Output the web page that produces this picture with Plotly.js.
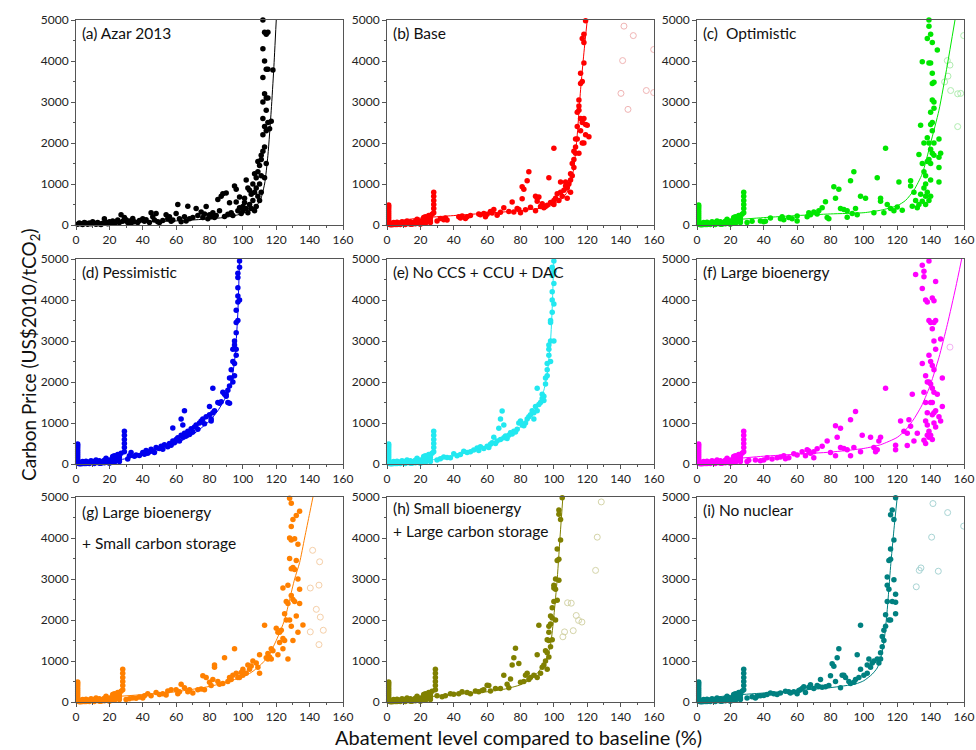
<!DOCTYPE html>
<html><head><meta charset="utf-8">
<script src="https://cdn.plot.ly/plotly-3.0.1.min.js"></script>
<style>html,body{margin:0;padding:0;background:#fff;}#chart{width:976px;height:750px;}</style>
</head><body><div id="chart"></div>
<script>
// ---------- DATA ----------
// shared low-abatement points (b-i)
const lowX = [1,1,1,1,1,1,1,1,1,1,1, 2,3,4,5,6,7,8,9,10,11,12,13,14,15,16,17,18,19,20,21,22,22,23,24,24,25,26,26,27, 3,5,8,11,14,17,20,23,26,2,4,6];
const lowY = [20,60,100,150,200,250,300,350,400,450,490, 20,40,60,30,70,20,50,80,30,60,100,40,80,20,60,90,140,50,100,60,180,120,200,80,150,230,170,100,260, 5,10,15,10,20,30,20,40,60,5,10,15];
const stackY = [300,400,500,600,700,800];

// (a) Azar 2013
const aX = [1,2,3,4,5,6,7,8,9,10,11,12,13,14,15,16,17,18,19,20,21,22,23,24,25,26,27,28,29,30,31,32,33,34,35,37,38,40,41,42,44,45,46,47,48,49,50,52,54,55,56,57,58,60,61,62,63,65,66,67,68,70,72,73,75,76,77,78,79,80,81,82,83,84,85,86,87,88,89,90,91,92,93,94,95,96,96,97,98,98,99,100,100,101,101,102,102,103,103,104,104,105,105,106,106,107,107,107,108,108,108,109,109,109,110,110,110,111,111,111,111,112,112,112,112,112,112,112,113,113,113,113,113,114,114,114,114,114,114,115,115,115,115,116,117,118,113];
const aY = [20,50,30,10,60,40,20,50,30,80,40,20,60,30,10,40,150,60,30,80,50,100,40,70,120,60,250,90,180,130,60,100,40,160,80,60,110,150,90,130,60,300,200,120,280,80,60,110,250,150,200,90,120,280,500,150,80,200,100,460,150,180,400,230,320,180,270,450,150,250,200,300,180,230,620,350,700,760,210,780,260,540,300,230,950,870,560,350,680,420,280,350,450,550,650,1100,400,300,900,500,850,750,400,600,1000,1250,800,350,1150,450,900,1550,1300,700,1450,1000,600,1700,1200,800,1600,1800,2200,2600,3000,3600,4300,5000,4700,4000,3200,2400,1900,4650,3800,3100,2800,2300,1500,4700,3800,2500,3100,2350,2530,3780,1150];
const aFitX = [0,20,40,60,80,90,100,105,110,113,115,117,118.5,120];
const aFitY = [40,55,75,100,150,190,280,380,560,1000,1700,2800,3800,5000];

// (b) Base
const bX = [28,28,28,28,28,28,30,32,34,35,36,43,44,45,47,48,50,55,56,58,59,60,62,63,64,66,68,70,73,75,76,78,79,80,81,81,82,83,84,85,86,89,89,90,90,91,92,93,94,95,96,97,98,100,100,100,101,102,103,104,104,105,106,107,107,108,108,109,110,110,110,111,111,112,112,112,113,113,113,114,114,114,115,115,115,115,116,116,116,116,117,117,117,117,118,118,118,118,118,119,119,119,120,121];
const bY = [300,400,500,600,700,800,100,160,130,170,120,200,170,220,160,200,230,270,250,280,200,260,330,290,380,240,310,420,330,560,320,400,380,300,640,930,870,370,1080,1300,430,700,350,580,650,680,450,520,420,450,480,1150,550,1870,600,500,650,760,600,1050,800,700,850,1050,950,650,900,1000,1100,800,1250,1200,1500,1400,1800,1600,1900,1750,2100,2400,2750,2100,3050,2800,2900,1750,3450,3700,2600,2300,3500,4550,2500,2000,4650,4450,3950,2600,2000,2450,4980,2200,2430,2150];
const bFitX = [0,10,20,40,60,80,95,100,105,108,110,112,114,116,118,120];
const bFitY = [30,120,170,230,290,350,430,500,650,800,1000,1400,2200,3300,4200,5000];
const bOpenX = [142,147.6,141.2,140.2,144.4,155.4,159.8,159.8];
const bOpenY = [4850,4620,4010,3210,2820,3280,4280,3230];

// (c) Optimistic
const cX = [28,28,28,28,28,28,30,33,38,40,41,44,50,51,52,55,57,60,60,66,67,68,70,72,73,75,77,78,79,82,83,85,86,88,90,90,92,93,94,95,96,98,101,106,108,110,110,112,113,114,116,118,120,121,123,128,128,129,130,131,132,133,133,134,134,135,135,135,136,136,136,137,137,137,137,138,138,138,138,139,139,139,139,139,139,140,140,140,140,140,140,140,140,141,141,141,141,141,141,141,142,142,142,142,142,144,145,145,145,145,146];
const cY = [300,400,500,600,700,800,60,90,100,80,90,170,150,200,130,180,150,100,220,200,300,250,320,270,350,420,570,180,150,930,650,870,400,380,350,190,1080,280,1300,400,250,700,650,300,1150,580,650,300,1870,500,400,350,440,1050,360,1080,950,460,800,600,420,1720,500,2430,750,3980,1500,580,1300,900,2000,1200,1000,700,500,2130,1550,800,4550,5000,4850,3950,2000,600,1600,4650,3950,2750,2450,1850,1500,1100,700,4450,3700,3450,3050,2500,2300,1750,3000,3480,2850,1700,2000,4270,2100,1650,1400,1050,1750];
const cFitX = [0,20,40,60,80,100,110,120,125,130,135,140,145,150,154.6];
const cFitY = [40,120,180,230,270,300,360,470,600,850,1250,2000,2800,3900,5000];
const cOpenX = [150,151.6,150.4,148.4,152,156.2,158,156.2,159.8];
const cOpenY = [4010,3900,3630,3490,3280,3200,3210,2400,4620];

// (d) Pessimistic
const dX = [29,29,29,29,29,30,31,32,33,35,36,38,40,41,42,43,44,45,46,47,48,50,51,52,53,55,56,57,58,58,59,60,61,62,63,63,64,64,65,65,66,67,68,69,70,71,72,73,74,75,76,77,78,80,80,81,81,82,82,83,85,86,87,88,89,90,91,91,92,92,93,93,94,94,94,95,95,95,95,96,96,96,96,96,97,97,97,97,97,97,98,98,98,92,90];
const dY = [800,700,600,500,400,150,120,200,280,190,220,210,280,240,330,260,300,360,310,280,400,380,430,360,470,420,500,460,880,560,520,600,640,560,1100,700,650,950,1300,750,680,800,720,860,780,900,950,850,1000,1050,1100,980,1150,1400,1200,1100,1050,1850,1250,1300,1500,1480,1520,1750,1700,1650,1800,1500,2100,1900,2300,2100,2800,2500,2000,2900,2450,2150,3000,3450,3200,2650,3750,2800,4650,4550,4300,3950,3500,4100,4950,4800,4000,1480,1700];
const dFitX = [0,10,20,30,40,50,60,70,80,85,90,93,95,96,97,97.5,98];
const dFitY = [10,30,70,130,220,340,500,720,1050,1300,1650,2000,2500,3000,3700,4300,5000];

// (e) No CCS + CCU + DAC
const eX = [28,28,28,28,28,28,30,32,34,36,38,40,42,44,46,48,50,52,54,55,56,58,60,61,62,63,64,65,66,67,68,68,69,70,70,71,72,73,74,75,76,77,78,79,80,81,82,83,84,85,86,87,88,89,90,90,91,92,93,94,94,95,95,96,96,96,97,97,97,98,98,98,98,99,99,99,99,99,100,100,100,100,100,93,88];
const eY = [300,400,500,600,700,800,100,130,170,160,150,250,200,230,310,280,300,340,390,330,420,380,430,400,480,520,650,500,560,870,1100,600,1290,950,640,680,620,700,760,730,800,780,850,1000,1050,950,930,1000,1100,1150,1200,1300,1250,1400,1850,1300,1450,1500,1700,1650,1550,1950,2100,2300,2450,2150,2800,2900,2650,3000,3450,2500,3500,4000,4200,3700,4600,4800,4950,4400,3900,3000,4700,1600,1100];
const eFitX = [0,10,20,30,40,50,60,70,80,85,90,94,96,98,99,99.5,100];
const eFitY = [10,30,70,120,200,300,430,620,900,1100,1400,1800,2200,3000,3800,4400,5000];

// (f) Large bioenergy
const fX = [28,28,28,28,28,28,30,31,35,38,40,42,45,48,50,52,53,55,58,60,63,65,66,67,68,70,70,72,75,78,80,83,83,84,86,86,88,90,92,92,94,95,98,99,104,106,107,108,109,110,113,119,119,122,124,126,126,127,128,129,130,131,132,135,135,135,136,136,136,136,137,137,137,137,137,138,138,138,138,138,139,139,139,139,139,139,140,140,140,140,140,141,141,141,141,141,141,141,142,142,142,142,142,142,142,143,143,143,143,143,144,145,146,146,147,147];
const fY = [300,400,500,600,700,800,60,90,100,80,100,150,120,150,170,200,130,150,250,220,300,200,350,320,260,150,300,370,430,560,280,930,200,650,870,400,380,350,1080,200,400,1280,300,700,650,400,300,350,560,650,1850,460,350,1050,800,750,450,1080,920,1700,560,4620,750,4850,4280,2450,580,4700,4570,1750,1050,500,4000,2150,1500,700,950,3950,2000,1250,800,650,4950,3500,2650,2000,1500,700,3450,2500,1950,1200,600,4050,3300,2400,1850,1500,1000,1250,3980,3450,3000,2300,1750,1300,900,4450,3500,2800,1700,1150,3050,1050,2100,1400,3250,1750];
const fFitX = [0,20,40,60,80,100,110,120,125,130,135,140,145,150,155,158.6];
const fFitY = [40,120,190,240,290,380,470,650,830,1100,1450,1950,2600,3400,4300,5000];
const fOpenX = [151.6];
const fOpenY = [2850];

// (g) Large bioenergy + Small carbon storage
const gX = [28,28,28,28,28,28,30,32,34,36,38,40,41,43,45,48,50,52,54,55,57,60,61,62,63,65,67,68,70,73,75,76,77,78,80,81,82,83,83,85,86,88,89,91,92,93,94,95,96,97,98,99,100,100,101,102,103,104,105,106,108,109,110,110,113,114,115,115,116,117,117,118,120,121,121,122,122,123,124,124,124,125,125,126,126,127,127,127,128,128,128,128,129,129,129,129,129,129,130,130,130,130,131,131,131,132,132,132,133,133,133,134,134,134,136];
const gY = [300,400,500,600,700,800,60,80,100,90,120,100,150,200,150,230,180,200,170,270,300,300,200,250,430,350,250,300,220,300,320,640,300,600,480,400,550,900,850,500,430,450,1080,500,600,550,650,1300,700,600,600,720,800,650,700,700,900,800,880,1000,950,850,1150,700,1870,1080,1050,1180,1100,1050,1300,1250,1800,1700,1150,1700,1450,1750,1550,1300,2780,1500,2150,2450,2000,2850,2400,1050,4970,4000,3500,2000,4850,4280,3950,3250,2600,1850,4450,3280,2500,1500,3980,3230,2450,4550,3450,2100,3850,3000,1700,4650,2750,2400,1880];
const gFitX = [0,20,40,60,80,90,100,105,110,115,120,125,128,131,134,137,140,142];
const gFitY = [40,120,180,250,380,480,620,720,880,1100,1500,2000,2500,3000,3400,4000,4600,5000];
const gOpenX = [141.8,146,140.4,145.6,144,146.4,148.2,140.4,145.6];
const gOpenY = [3700,3420,2780,2850,2260,2070,1750,1710,1400];

// (h) Small bioenergy + Large carbon storage
const hX = [29,29,29,29,29,29,30,33,35,38,40,43,45,48,50,53,55,57,58,60,61,62,65,68,70,72,73,74,75,76,77,79,80,82,83,84,85,86,88,90,90,91,92,93,94,95,95,96,96,96,97,97,97,97,98,98,98,99,99,99,100,100,100,101,101,101,102,102,102,103,103,103,103,104,104,105];
const hY = [300,400,500,600,700,800,150,130,150,200,190,200,250,230,200,270,250,280,300,410,400,270,330,330,650,430,350,560,900,1080,1310,940,480,500,650,700,550,600,650,600,1150,1870,700,850,900,1000,1250,1200,1520,800,1850,1700,1500,1100,2100,1900,1350,2300,2050,1520,2850,2780,2450,3000,2750,2000,3730,3450,2480,4680,4580,3480,2970,4450,3950,4980];
const hFitX = [0,20,40,60,70,80,85,90,95,98,100,102,104,105.4];
const hFitY = [20,110,180,250,310,420,540,700,1000,1400,2100,3000,4200,5000];
const hOpenX = [128.4,126,125,108.2,110.4,113.4,114.8,116.8,106.4,105.4,111.6];
const hOpenY = [4880,4020,3210,2420,2410,2110,1990,1950,1710,1590,1740];

// (i) No nuclear
const iX = [28,28,28,28,28,28,30,33,35,36,38,40,42,44,46,48,50,53,55,56,58,60,61,62,63,64,65,67,68,70,72,73,74,75,77,79,80,81,82,83,84,85,86,87,88,89,91,92,94,95,96,97,98,98,100,102,102,103,104,105,106,108,109,110,110,111,111,112,112,113,113,114,114,114,115,115,115,116,116,116,116,117,117,118,118,118,119,119,119,119];
const iY = [300,400,500,600,700,800,100,130,100,140,150,160,180,220,200,180,220,260,250,220,250,200,280,300,330,370,230,360,420,330,400,380,550,360,370,400,640,930,870,500,1080,1300,350,650,650,600,500,450,480,550,1150,600,1870,800,650,900,700,1050,850,950,1000,1050,950,1050,1200,1350,1600,1500,1750,1850,2130,2450,2850,3050,2750,3450,2000,3730,3480,4570,2000,4680,2450,4450,3950,2980,4980,2630,2430,2150];
const iFitX = [0,10,20,40,60,80,95,100,105,108,110,112,114,116,118,120];
const iFitY = [30,110,160,220,280,350,440,520,680,830,1050,1450,2250,3300,4200,5000];
const iOpenX = [141.4,150.2,140.6,134.2,133.2,144.6,131.4,159.8];
const iOpenY = [4840,4620,4020,3270,3210,3190,2810,4290];

const panelLabels = ["(a) Azar 2013","(b) Base","(c)\u00a0 Optimistic","(d) Pessimistic","(e) No CCS + CCU + DAC","(f) Large bioenergy","(g) Large bioenergy","(h) Small bioenergy","(i) No nuclear"];
const panelLabels2 = ["","","","","","","+ Small carbon storage","+ Large carbon storage",""];
const xTickVals = [0,20,40,60,80,100,120,140,160];
const yTickVals = [0,1000,2000,3000,4000,5000];

// ---------- BUILD ----------
const W = 976, H = 750;
const colsPx = [[76,343],[387,654],[697,964]];
const rowsPx = [[20,225],[259,464],[497,702]];

const withStack = (px, py, sx) => ({x: lowX.concat(stackY.map(()=>sx)).concat(px.slice(6)), y: lowY.concat(stackY).concat(py.slice(6))});

const panels = [
  {x:aX, y:aY, fx:aFitX, fy:aFitY, ox:[], oy:[], c:'#000000', oc:'#bbbbbb'},
  {x:bX, y:bY, fx:bFitX, fy:bFitY, ox:bOpenX, oy:bOpenY, c:'#ff0000', oc:'#f0b4b4', low:28},
  {x:cX, y:cY, fx:cFitX, fy:cFitY, ox:cOpenX, oy:cOpenY, c:'#00e600', oc:'#b0ecb0', low:28},
  {x:dX, y:dY, fx:dFitX, fy:dFitY, ox:[], oy:[], c:'#0000ee', oc:'#b0b0f0', low:29},
  {x:eX, y:eY, fx:eFitX, fy:eFitY, ox:[], oy:[], c:'#22e8f0', oc:'#b0f0f0', low:28},
  {x:fX, y:fY, fx:fFitX, fy:fFitY, ox:fOpenX, oy:fOpenY, c:'#ff00ff', oc:'#f4b0f4', low:28},
  {x:gX, y:gY, fx:gFitX, fy:gFitY, ox:gOpenX, oy:gOpenY, c:'#ff8000', oc:'#f5cfa8', low:28},
  {x:hX, y:hY, fx:hFitX, fy:hFitY, ox:hOpenX, oy:hOpenY, c:'#808000', oc:'#d4d4a8', low:29},
  {x:iX, y:iY, fx:iFitX, fy:iFitY, ox:iOpenX, oy:iOpenY, c:'#008080', oc:'#a8d4d4', low:28}
];

const traces = [];
const layout = {
  width: W, height: H, margin: {l:0, r:0, t:0, b:0},
  paper_bgcolor: '#fff', plot_bgcolor: '#fff',
  showlegend: false,
  font: {family: 'Lato, "Open Sans", sans-serif', size: 12, color: '#222'},
  annotations: []
};

panels.forEach((p, k) => {
  const r = Math.floor(k/3), c = k%3;
  const sfx = k === 0 ? '' : String(k+1);
  const xa = 'x' + sfx, ya = 'y' + sfx;
  let px = p.x, py = p.y;
  if (p.low) { const s = withStack(p.x, p.y, p.low); px = s.x; py = s.y; }
  if (p.ox.length) traces.push({type:'scatter', mode:'markers', x:p.ox, y:p.oy, xaxis:xa, yaxis:ya,
    marker:{symbol:'circle-open', size:6, color:p.oc, line:{width:1}}, hoverinfo:'skip'});
  traces.push({type:'scatter', mode:'markers', x:px, y:py, xaxis:xa, yaxis:ya, cliponaxis:false,
    marker:{symbol:'circle', size:5.5, color:p.c}, hoverinfo:'skip'});
  traces.push({type:'scatter', mode:'lines', x:p.fx, y:p.fy, xaxis:xa, yaxis:ya,
    line:{color:p.c, width:1, shape:'spline', smoothing:0.6}, hoverinfo:'skip'});

  const axCommon = {showgrid:false, zeroline:false, showline:true, linecolor:'#555', linewidth:1, mirror:true,
    ticks:'outside', ticklen:4, tickcolor:'#555', tickfont:{size:12, color:'#222'}};
  layout['xaxis' + sfx] = Object.assign({}, axCommon, {
    domain:[colsPx[c][0]/W, colsPx[c][1]/W], anchor: ya, range:[0,160],
    tickvals: xTickVals, ticktext: xTickVals.map(String),
    minor:{dtick:10, ticklen:2, ticks:'outside', tickcolor:'#555'}
  });
  layout['yaxis' + sfx] = Object.assign({}, axCommon, {
    domain:[1 - rowsPx[r][1]/H, 1 - rowsPx[r][0]/H], anchor: xa, range:[0,5000],
    tickvals: yTickVals, ticktext: yTickVals.map(String),
    minor:{dtick:500, ticklen:2, ticks:'outside', tickcolor:'#555'}
  });

  const twoLine = panelLabels2[k] !== '';
  layout.annotations.push({text: panelLabels[k], xref: xa + ' domain', yref: ya + ' domain',
    x: 0.015, y: k===6 ? 0.927 : (k===7 ? 0.946 : 0.937), xanchor:'left', yanchor:'middle', showarrow:false,
    font:{size:15.5, color:'#111'}});
  if (twoLine) layout.annotations.push({text: panelLabels2[k], xref: xa + ' domain', yref: ya + ' domain',
    x: 0.015, y: k===6 ? 0.776 : 0.834, xanchor:'left', yanchor:'middle', showarrow:false,
    font:{size:15.5, color:'#111'}});
});

layout.annotations.push({text:'Carbon Price (US$2010/tCO<sub>2</sub>)', xref:'paper', yref:'paper',
  x: 30/W, y: 1 - 355/H, textangle:-90, showarrow:false, xanchor:'center', yanchor:'middle',
  font:{size:19, color:'#111'}});
layout.annotations.push({text:'Abatement level compared to baseline (%)', xref:'paper', yref:'paper',
  x: 518/W, y: 1 - 737/H, showarrow:false, xanchor:'center', yanchor:'middle',
  font:{size:20, color:'#111'}});

Plotly.newPlot('chart', traces, layout, {staticPlot:true, displayModeBar:false});
</script>
</body></html>
